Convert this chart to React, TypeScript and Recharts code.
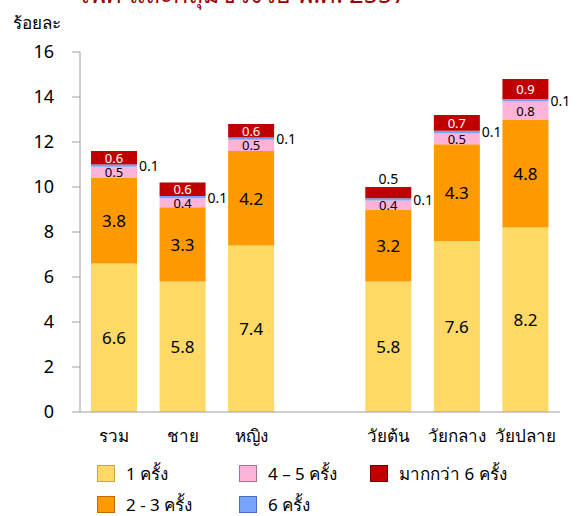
import React from 'react';
import { BarChart, Bar, XAxis, YAxis, LabelList } from 'recharts';

const categories = ['รวม', 'ชาย', 'หญิง', '', 'วัยต้น', 'วัยกลาง', 'วัยปลาย'];
const once = [6.6, 5.8, 7.4, null, 5.8, 7.6, 8.2];
const twoToThree = [3.8, 3.3, 4.2, null, 3.2, 4.3, 4.8];
const fourToFive = [0.5, 0.4, 0.5, null, 0.4, 0.5, 0.8];
const sixTimes = [0.1, 0.1, 0.1, null, 0.1, 0.1, 0.1];
const moreThanSix = [0.6, 0.6, 0.6, null, 0.5, 0.7, 0.9];
const yTicks = [0, 2, 4, 6, 8, 10, 12, 14, 16];

const FONT = 'Tahoma, "Noto Sans", "DejaVu Sans", sans-serif';

const series = [
  { key: 'once', name: '1 ครั้ง', color: '#FFD966', border: '#C9A640', values: once },
  { key: 'twoToThree', name: '2 - 3 ครั้ง', color: '#FF9900', border: '#B86E00', values: twoToThree },
  { key: 'fourToFive', name: '4 – 5 ครั้ง', color: '#FFB3D9', border: '#B07090', values: fourToFive },
  { key: 'sixTimes', name: '6 ครั้ง', color: '#77A3FA', border: '#4A6FB8', values: sixTimes },
  { key: 'moreThanSix', name: 'มากกว่า 6 ครั้ง', color: '#C00000', border: '#700000', values: moreThanSix },
];

const data = categories.map((name, i) => {
  const row: any = { name };
  series.forEach((s) => {
    row[s.key] = s.values[i];
  });
  return row;
});

const centerLabel = (size: number, fill: string) => (props: any) => {
  const { x, y, width, height, value } = props;
  if (value == null) return null;
  return (
    <text x={x + width / 2} y={y + height / 2} textAnchor="middle" dominantBaseline="central"
      fontSize={size} fill={fill} fontFamily={FONT}>
      {value.toFixed(1)}
    </text>
  );
};

const sideLabel = (props: any) => {
  const { x, y, width, height, value } = props;
  if (value == null) return null;
  return (
    <text x={x + width + 2} y={y + height / 2} textAnchor="start" dominantBaseline="central"
      fontSize={14} fill="#000" fontFamily={FONT}>
      {value.toFixed(1)}
    </text>
  );
};

const topLabel = (props: any) => {
  const { x, y, width, height, value } = props;
  if (value == null) return null;
  // thin red segments get their number above the bar
  if (height < 12.5) {
    return (
      <text x={x + width / 2} y={y - 9} textAnchor="middle" dominantBaseline="central"
        fontSize={14} fill="#000" fontFamily={FONT}>
        {value.toFixed(1)}
      </text>
    );
  }
  return (
    <text x={x + width / 2} y={y + height / 2} textAnchor="middle" dominantBaseline="central"
      fontSize={13} fill="#fff" fontFamily={FONT}>
      {value.toFixed(1)}
    </text>
  );
};

const labelFor: Record<string, any> = {
  once: centerLabel(17, '#000'),
  twoToThree: centerLabel(17, '#000'),
  fourToFive: centerLabel(13, '#000'),
  sixTimes: sideLabel,
  moreThanSix: topLabel,
};

const legendCols = [
  { left: 97, items: [series[0], series[1]] },
  { left: 239, items: [series[2], series[3]] },
  { left: 370, items: [series[4]] },
];

export default function App() {
  return (
    <div style={{ position: 'absolute', left: 0, top: 0, width: 580, height: 516, overflow: 'hidden', background: '#fff', fontFamily: FONT }}>
      <div style={{ position: 'absolute', left: 0, width: 488, top: -22, textAlign: 'center', fontSize: 25, lineHeight: '30px', color: '#990000' }}>
        เพศ และกลุ่มช่วงวัย พ.ศ. 2557
      </div>
      <div style={{ position: 'absolute', left: 13, top: 9, fontSize: 17, color: '#000' }}>ร้อยละ</div>
      <BarChart width={580} height={516} data={data} margin={{ top: 52, right: 20, bottom: 64, left: 0 }} barSize={46}>
        <YAxis
          width={80}
          domain={[0, 16]}
          ticks={yTicks}
          tickSize={8}
          tickMargin={18}
          tick={{ fontSize: 18, fill: '#000', fontFamily: FONT }}
          axisLine={{ stroke: '#9e9e9e' }}
          tickLine={{ stroke: '#9e9e9e' }}
        />
        <XAxis
          dataKey="name"
          height={40}
          tickLine={false}
          axisLine={{ stroke: '#9e9e9e' }}
          tick={{ fontSize: 17, fill: '#000', fontFamily: FONT }}
          tickMargin={12}
          interval={0}
        />
        {series.map((s) => (
          <Bar key={s.key} dataKey={s.key} name={s.name} stackId="a" fill={s.color} isAnimationActive={false}>
            <LabelList dataKey={s.key} content={labelFor[s.key]} />
          </Bar>
        ))}
      </BarChart>
      {legendCols.map((col, ci) => (
        <div key={ci} style={{ position: 'absolute', left: col.left, top: 458 }}>
          {col.items.map((s) => (
            <div key={s.key} style={{ display: 'flex', alignItems: 'center', height: 31, fontSize: 17, lineHeight: '22px' }}>
              <span style={{ display: 'inline-block', width: 16, height: 15, background: s.color, border: `1px solid ${s.border}`, marginRight: 11 }} />
              <span>{s.name}</span>
            </div>
          ))}
        </div>
      ))}
    </div>
  );
}
